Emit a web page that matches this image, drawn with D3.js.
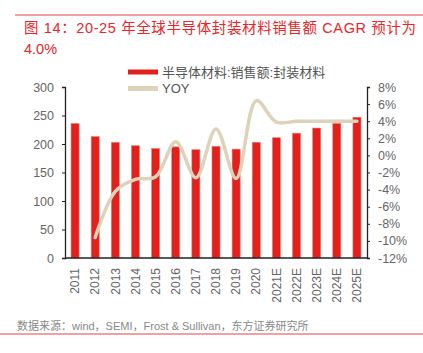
<!DOCTYPE html>
<html>
<head>
<meta charset="utf-8">
<script src="https://cdn.jsdelivr.net/npm/d3@7"></script>
<style>
  body { margin: 0; background: #fff; }
  svg text { font-family: "Liberation Sans", "Noto Sans CJK SC", sans-serif; }
</style>
</head>
<body>
<svg id="canvas" width="423" height="353"></svg>
<script>
const years = ['2011', '2012', '2013', '2014', '2015', '2016', '2017', '2018', '2019', '2020',
  '2021E', '2022E', '2023E', '2024E', '2025E'];
// sales, packaging materials (bn)
const sales = [236, 213, 203, 197, 192, 195, 190, 196, 191, 203, 211, 219, 228, 236, 247];
// YOY, %  (2011 has none)
const yoy = [null, -9.6, -4.2, -2.8, -2.5, 1.6, -2.6, 3.1, -2.7, 6.4, 3.9, 4.0, 4.0, 4.0, 4.0];
const leftTicks = [0, 50, 100, 150, 200, 250, 300];
const rightTicks = [-12, -10, -8, -6, -4, -2, 0, 2, 4, 6, 8];

const svg = d3.select('#canvas');
const mLeft = 65, mRight = 367, mTop = 87, mBottom = 258;
const red = '#e2211c', beige = '#ddd3bb';

// top / bottom rules
svg.append('line').attr('x1', 15).attr('x2', 423).attr('y1', 15).attr('y2', 15)
  .attr('stroke', '#f08080').attr('stroke-width', 1.5);
svg.append('line').attr('x1', 0).attr('x2', 423).attr('y1', 334).attr('y2', 334)
  .attr('stroke', '#f08080').attr('stroke-width', 1.5);

// title
const title = svg.append('text').attr('fill', '#e8262a').style('font-size', '14.5px');
title.append('tspan').attr('x', 24).attr('y', 33)
  .attr('textLength', 392).attr('lengthAdjust', 'spacing')
  .text('图 14：20-25 年全球半导体封装材料销售额 CAGR 预计为');
svg.append('text').attr('fill', '#e8262a').style('font-size', '14.5px')
  .attr('x', 24).attr('y', 54).text('4.0%');

const x = d3.scaleBand().domain(years).range([mLeft, mRight]).paddingInner(0.6).paddingOuter(0.3);
const y = d3.scaleLinear().domain([0, 300]).range([mBottom, mTop]);
const y2 = d3.scaleLinear().domain([-12, 8]).range([mBottom, mTop]);

// bars
svg.append('g').selectAll('rect')
  .data(years)
  .join('rect')
  .attr('x', d => x(d))
  .attr('width', x.bandwidth())
  .attr('y', (d, i) => y(sales[i]))
  .attr('height', (d, i) => mBottom - y(sales[i]))
  .attr('fill', red)
  .attr('stroke', '#f07a72')
  .attr('stroke-width', 0.6);

// yoy line
const pts = years.map((d, i) => [x(d) + x.bandwidth() / 2, yoy[i]]).filter(p => p[1] !== null);
const line = d3.line()
  .x(p => p[0])
  .y(p => y2(p[1]))
  .curve(d3.curveCatmullRom.alpha(0.5));
svg.append('path')
  .attr('d', line(pts))
  .attr('fill', 'none')
  .attr('stroke', beige)
  .attr('stroke-width', 3.5)
  .attr('stroke-linecap', 'round');

// axes
const yAxis = svg.append('g').attr('transform', `translate(${mLeft},0)`)
  .call(d3.axisLeft(y).tickValues(leftTicks).tickSize(3).tickSizeOuter(3).tickPadding(8));
const y2Axis = svg.append('g').attr('transform', `translate(${mRight},0)`)
  .call(d3.axisRight(y2).tickValues(rightTicks).tickSize(3).tickSizeOuter(3).tickPadding(8)
    .tickFormat(d => d + '%'));
const xAxis = svg.append('g').attr('transform', `translate(0,${mBottom})`)
  .call(d3.axisBottom(x).tickSize(0).tickSizeOuter(0));

[yAxis, y2Axis, xAxis].forEach(g => {
  g.select('.domain').attr('stroke', '#222').attr('stroke-width', 1.3);
  g.selectAll('.tick line').attr('stroke', '#222');
  g.selectAll('text').attr('fill', '#666').style('font-size', '12.5px')
    .style('font-family', '"Liberation Sans", sans-serif');
});
xAxis.select('.domain').attr('d', `M${mLeft},0H${mRight}`);
xAxis.selectAll('text')
  .attr('transform', 'rotate(-90)')
  .attr('text-anchor', 'end')
  .attr('x', -10)
  .attr('y', 0)
  .attr('dy', '0.35em')
  .style('font-size', '12px');

// legend
svg.append('rect').attr('x', 128).attr('y', 69.5).attr('width', 30).attr('height', 5).attr('fill', red);
svg.append('text').attr('x', 162).attr('y', 76.5).attr('fill', '#555').style('font-size', '13px')
  .text('半导体材料:销售额:封装材料');
svg.append('rect').attr('x', 128).attr('y', 86).attr('width', 30).attr('height', 5).attr('fill', beige);
svg.append('text').attr('x', 162).attr('y', 93).attr('fill', '#555').style('font-size', '13px')
  .text('YOY');

// source
svg.append('text').attr('x', 17).attr('y', 330).attr('fill', '#888').style('font-size', '11px')
  .text('数据来源：wind，SEMI，Frost & Sullivan，东方证券研究所');
</script>
</body>
</html>
